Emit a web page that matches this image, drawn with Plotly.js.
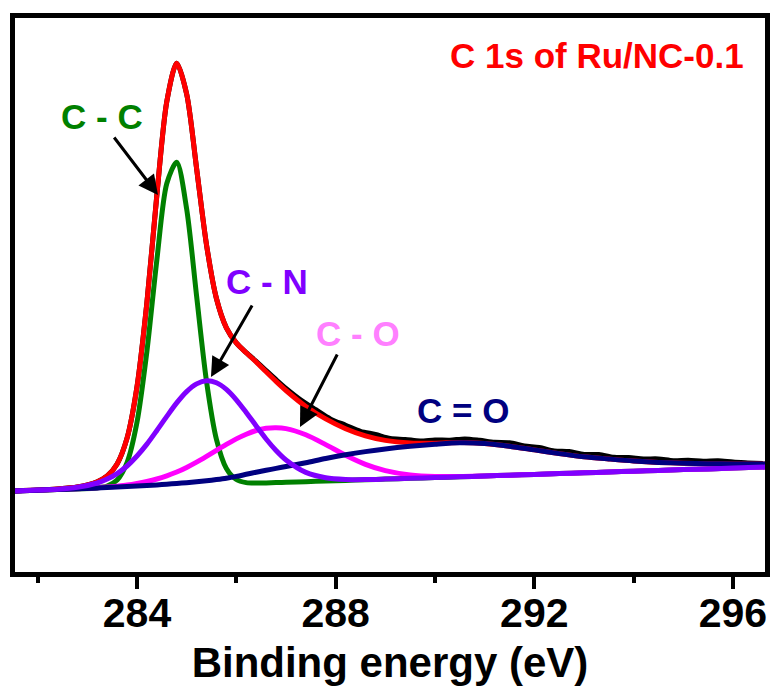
<!DOCTYPE html>
<html>
<head>
<meta charset="utf-8">
<script src="https://cdn.plot.ly/plotly-3.0.1.min.js"></script>
<style>
  html, body { margin: 0; padding: 0; background: #ffffff; }
  #chart { width: 771px; height: 687px; }
</style>
</head>
<body>
<div id="chart"></div>
<script>
// Binding energy grid (eV) used for the fitted curves
const energy = [281.5, 282.0, 282.4, 282.8, 283.2, 283.4, 283.6, 283.8, 284.0, 284.2, 284.4, 284.6, 284.8, 285.0, 285.2, 285.4, 285.6, 285.8, 286.0, 286.2, 286.4, 286.6, 286.8, 287.0, 287.4, 287.8, 288.2, 288.6, 289.0, 289.5, 290.0, 290.5, 291.0, 291.5, 292.0, 292.5, 293.0, 293.5, 294.0, 294.5, 295.0, 295.5, 296.0, 296.7];

// Fitted components (intensity, a.u., each drawn on the background)
const cc = [84.0, 84.8, 85.4, 86.1, 87.1, 88.8, 94.9, 112.4, 152.7, 223.6, 314.9, 391.5, 412.8, 366.2, 279.1, 193.7, 135.7, 106.6, 95.5, 92.4, 92.0, 92.1, 92.4, 92.7, 93.3, 94.0, 94.6, 95.2, 95.9, 96.7, 97.4, 98.2, 99.0, 99.8, 100.6, 101.4, 102.2, 103.0, 103.8, 104.6, 105.4, 106.1, 106.9, 108.0];
const cn = [84.0, 84.9, 85.8, 87.7, 92.0, 95.9, 101.4, 109.0, 119.0, 130.9, 144.5, 158.6, 172.1, 183.4, 191.1, 194.2, 192.2, 185.6, 175.2, 162.5, 149.1, 136.0, 124.5, 115.0, 102.6, 97.2, 95.5, 95.4, 95.9, 96.7, 97.4, 98.2, 99.0, 99.8, 100.6, 101.4, 102.2, 103.0, 103.8, 104.6, 105.4, 106.1, 106.9, 108.0];
const co = [84.0, 84.8, 85.5, 86.3, 87.3, 87.9, 88.8, 89.9, 91.5, 93.5, 96.0, 99.2, 103.0, 107.6, 112.9, 118.7, 124.7, 130.6, 136.1, 140.8, 144.5, 146.7, 147.3, 146.4, 140.2, 130.4, 119.8, 110.7, 104.4, 100.1, 98.5, 98.5, 99.1, 99.8, 100.6, 101.4, 102.2, 103.0, 103.8, 104.6, 105.4, 106.1, 106.9, 108.0];
const c2o = [84.0, 84.8, 85.5, 86.2, 87.0, 87.4, 87.9, 88.4, 89.0, 89.5, 90.1, 90.8, 91.5, 92.3, 93.2, 94.2, 95.4, 96.8, 98.6, 100.7, 102.8, 104.7, 106.6, 108.5, 112.3, 116.5, 120.2, 123.4, 126.1, 128.7, 130.7, 132.2, 131.5, 128.8, 125.1, 121.4, 118.2, 116.0, 114.0, 112.6, 111.8, 111.3, 111.1, 111.1];
const envelope = [84.0, 84.9, 86.0, 88.0, 93.3, 99.0, 111.1, 136.9, 188.2, 272.6, 379.7, 473.4, 511.8, 481.0, 406.7, 330.2, 276.5, 247.2, 232.1, 222.2, 213.0, 203.2, 193.6, 184.5, 168.5, 156.1, 146.3, 139.1, 134.6, 132.1, 131.8, 132.5, 131.6, 128.8, 125.1, 121.4, 118.2, 116.0, 114.0, 112.6, 111.8, 111.3, 111.1, 111.1];

// Measured spectrum
const rawEnergy = [281.5, 282.0, 282.4, 282.8, 283.2, 283.4, 283.6, 283.8, 284.0, 284.2, 284.4, 284.6, 284.8, 285.0, 285.2, 285.4, 285.6, 285.8, 286.0, 286.2, 286.4, 286.6, 286.8, 287.0, 287.3, 287.6, 287.9, 288.2, 288.5, 288.8, 289.1, 289.4, 289.7, 290.0, 290.3, 290.6, 290.9, 291.2, 291.5, 291.8, 292.1, 292.4, 292.7, 293.0, 293.3, 293.6, 293.9, 294.2, 294.5, 294.8, 295.1, 295.4, 295.7, 296.0, 296.3, 296.6];
const rawCounts = [84.0, 84.9, 86.0, 88.0, 93.3, 99.0, 111.1, 136.9, 188.2, 272.6, 379.7, 473.4, 511.8, 481.0, 406.7, 330.2, 276.5, 247.2, 232.1, 222.4, 213.6, 204.4, 195.3, 186.6, 175.0, 165.3, 155.9, 149.8, 143.7, 140.5, 136.5, 135.6, 134.0, 135.0, 134.8, 136.1, 134.7, 132.7, 132.2, 129.1, 127.5, 124.1, 123.4, 120.6, 120.5, 117.7, 117.4, 116.1, 116.1, 114.3, 114.8, 113.8, 114.2, 112.9, 112.1, 111.4];

// Axis ticks
const majorTicks = [284, 288, 292, 296];
const majorTickText = ['284', '288', '292', '296'];
const minorTicks = [282, 286, 290, 294];

// Labels
const titleText = 'C 1s of Ru/NC-0.1';
const xTitle = 'Binding energy (eV)';
const peakLabels = ['C - C', 'C - N', 'C - O', 'C = O'];

const FONT = 'Liberation Sans, Arial, Helvetica, sans-serif';

function curve(x, y, color, width, smoothing) {
  return {
    x: x, y: y, type: 'scatter', mode: 'lines',
    line: { color: color, width: width, shape: 'spline', smoothing: smoothing },
    hoverinfo: 'skip'
  };
}

const traces = [
  curve(rawEnergy, rawCounts, '#000000', 5, 0.8),
  curve(energy, envelope, '#ff0000', 5, 0.8),
  curve(energy, cc, '#008000', 5, 0.8),
  curve(energy, co, '#ff00ff', 5, 0.8),
  curve(energy, c2o, '#000080', 5, 0.8),
  curve(energy, cn, '#8000ff', 5, 0.8)
];

function label(text, x, y, color, size) {
  return {
    text: text, xref: 'paper', yref: 'paper', x: x, y: y,
    xanchor: 'center', yanchor: 'middle', showarrow: false,
    font: { family: FONT, size: size, color: color, weight: 'bold' }
  };
}
function arrow(x, y, ax, ay) {
  return {
    text: '', xref: 'paper', yref: 'paper', x: x, y: y,
    ax: ax, ay: ay, axref: 'pixel', ayref: 'pixel',
    showarrow: true, arrowhead: 2, arrowsize: 1.3, arrowwidth: 3,
    arrowcolor: '#000000', standoff: 0, startstandoff: 0
  };
}

const layout = {
  width: 771, height: 687,
  margin: { l: 15, r: 6, t: 18, b: 115 },
  paper_bgcolor: '#ffffff', plot_bgcolor: '#ffffff',
  showlegend: false,
  font: { family: FONT, color: '#000000' },
  xaxis: {
    range: [281.544, 296.645],
    showline: true, mirror: true, linewidth: 5, linecolor: '#000000',
    showgrid: false, zeroline: false,
    tickmode: 'array', tickvals: majorTicks, ticktext: majorTickText,
    ticks: 'outside', ticklen: 12, tickwidth: 4, tickcolor: '#000000',
    ticklabelstandoff: -11,
    tickfont: { family: FONT, size: 41, color: '#000000', weight: 'bold' },
    minor: { tickmode: 'array', tickvals: minorTicks, ticks: 'outside', ticklen: 6, tickwidth: 4, tickcolor: '#000000', showgrid: false },
    title: { text: xTitle, font: { family: FONT, size: 42, color: '#000000', weight: 'bold' }, standoff: 14 }
  },
  yaxis: {
    range: [3, 557],
    showline: true, mirror: true, linewidth: 5, linecolor: '#000000',
    showgrid: false, zeroline: false, ticks: '', showticklabels: false
  },
  annotations: [
    label(titleText, 0.776, 0.933, '#ff0000', 35),
    label(peakLabels[0], 0.116, 0.823, '#008000', 35),
    label(peakLabels[1], 0.336, 0.525, '#8000ff', 35),
    label(peakLabels[2], 0.457, 0.431, '#ff80ff', 35),
    label(peakLabels[3], 0.597, 0.291, '#000080', 35),
    arrow(0.1907, 0.6805, -45, -59),
    arrow(0.2613, 0.352, 42, -73),
    arrow(0.38, 0.2617, 38, -74)
  ]
};

Plotly.newPlot('chart', traces, layout, { displayModeBar: false, responsive: false });
</script>
</body>
</html>
